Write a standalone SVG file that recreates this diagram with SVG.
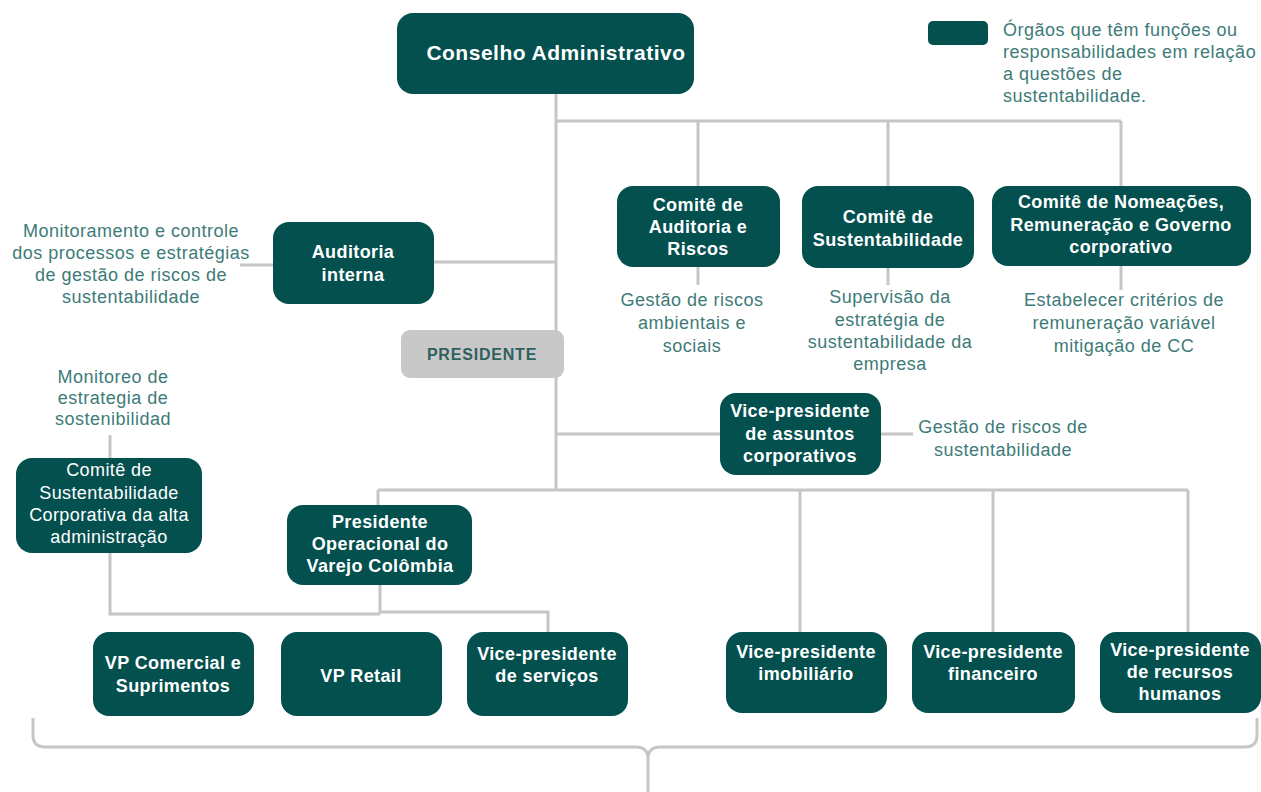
<svg xmlns="http://www.w3.org/2000/svg" width="1261" height="792" viewBox="0 0 1261 792">
<style>
.box{fill:#03504f}
.bt{fill:#ffffff;font-family:"Liberation Sans",Arial,sans-serif;font-size:18px;letter-spacing:0.4px;font-weight:bold;text-anchor:middle}
.bn{fill:#ffffff;font-family:"Liberation Sans",Arial,sans-serif;font-size:18px;letter-spacing:0.4px;text-anchor:middle}
.an{fill:#3d7b78;font-family:"Liberation Sans",Arial,sans-serif;font-size:18px;letter-spacing:0.5px;text-anchor:middle}
.lg{fill:#3d7b78;font-family:"Liberation Sans",Arial,sans-serif;font-size:18px;letter-spacing:0.5px}
.ln{fill:none;stroke:#c6c6c6;stroke-width:3}
</style>
<rect width="1261" height="792" fill="#ffffff"/>
<g id="connectors">
<path class="ln" d="M556 94V490"/>
<path class="ln" d="M556 121H1121M698 121V186M888 121V186M1121 121V186"/>
<path class="ln" d="M434 262H556M240 265H273"/>
<path class="ln" d="M698 267V285M888 268V285M1121 266V290"/>
<path class="ln" d="M556 434H720M881 434H913"/>
<path class="ln" d="M378 490H1188M378 490V505M800 490V632M993 490V632M1188 490V632"/>
<path class="ln" d="M110 435V458M110 553V614H380M380 585V614M380 612H548V632"/>
<path class="ln" d="M33 718V735Q33 747 45 747H636Q648 747 648 759V792M648 759Q648 747 660 747H1245Q1257 747 1257 735V718"/>
</g>
<g id="legend">
<rect x="928" y="21" width="60" height="24" rx="5" class="box"/>
<text x="1003" y="36" class="lg">Órgãos que têm funções ou</text>
<text x="1003" y="58" class="lg">responsabilidades em relação</text>
<text x="1003" y="80" class="lg">a questões de</text>
<text x="1003" y="102" class="lg">sustentabilidade.</text>
</g>
<g id="conselho">
<rect x="397" y="13" width="297" height="81" rx="16" class="box"/>
<text x="556" y="60" class="bt" style="font-size:21px;letter-spacing:0.5px">Conselho Administrativo</text>
</g>
<g id="auditoria-interna">
<rect x="273" y="222" width="161" height="82" rx="16" class="box"/>
<text x="353" y="258" class="bt">Auditoria</text>
<text x="353" y="281" class="bt">interna</text>
</g>
<g id="note-auditoria-interna">
<text x="131" y="237" class="an">Monitoramento e controle</text>
<text x="131" y="259" class="an">dos processos e estratégias</text>
<text x="131" y="281" class="an">de gestão de riscos de</text>
<text x="131" y="303" class="an">sustentabilidade</text>
</g>
<g id="comite-auditoria">
<rect x="617" y="186" width="163" height="81" rx="16" class="box"/>
<text x="698" y="211" class="bt">Comitê de</text>
<text x="698" y="233" class="bt">Auditoria e</text>
<text x="698" y="255" class="bt">Riscos</text>
</g>
<g id="note-comite-auditoria">
<text x="692" y="306" class="an">Gestão de riscos</text>
<text x="692" y="329" class="an">ambientais e</text>
<text x="692" y="352" class="an">sociais</text>
</g>
<g id="comite-sustentabilidade">
<rect x="802" y="186" width="172" height="82" rx="16" class="box"/>
<text x="888" y="223" class="bt">Comitê de</text>
<text x="888" y="246" class="bt">Sustentabilidade</text>
</g>
<g id="note-comite-sustentabilidade">
<text x="890" y="303" class="an">Supervisão da</text>
<text x="890" y="326" class="an">estratégia de</text>
<text x="890" y="348" class="an">sustentabilidade da</text>
<text x="890" y="370" class="an">empresa</text>
</g>
<g id="comite-nomeacoes">
<rect x="992" y="186" width="259" height="80" rx="16" class="box"/>
<text x="1121" y="208" class="bt">Comitê de Nomeações,</text>
<text x="1121" y="231" class="bt">Remuneração e Governo</text>
<text x="1121" y="253" class="bt">corporativo</text>
</g>
<g id="note-comite-nomeacoes">
<text x="1124" y="306" class="an">Estabelecer critérios de</text>
<text x="1124" y="329" class="an">remuneração variável</text>
<text x="1124" y="352" class="an">mitigação de CC</text>
</g>
<g id="presidente">
<rect x="401" y="330" width="163" height="48" rx="9" fill="#c8c8c8"/>
<text x="482" y="360" fill="#2f605e" font-family="Liberation Sans,Arial,sans-serif" font-size="16" font-weight="bold" letter-spacing="0.8" text-anchor="middle">PRESIDENTE</text>
</g>
<g id="vp-assuntos">
<rect x="720" y="393" width="161" height="82" rx="16" class="box"/>
<text x="800" y="417" class="bt">Vice-presidente</text>
<text x="800" y="440" class="bt">de assuntos</text>
<text x="800" y="462" class="bt">corporativos</text>
</g>
<g id="note-vp-assuntos">
<text x="1003" y="433" class="an">Gestão de riscos de</text>
<text x="1003" y="456" class="an">sustentabilidade</text>
</g>
<g id="note-comite-corporativa">
<text x="113" y="383" class="an">Monitoreo de</text>
<text x="113" y="404" class="an">estrategia de</text>
<text x="113" y="425" class="an">sostenibilidad</text>
</g>
<g id="comite-corporativa">
<rect x="16" y="458" width="186" height="95" rx="16" class="box"/>
<text x="109" y="476" class="bn">Comitê de</text>
<text x="109" y="499" class="bn">Sustentabilidade</text>
<text x="109" y="521" class="bn">Corporativa da alta</text>
<text x="109" y="543" class="bn">administração</text>
</g>
<g id="presidente-operacional">
<rect x="287" y="505" width="185" height="80" rx="16" class="box"/>
<text x="380" y="528" class="bt">Presidente</text>
<text x="380" y="550" class="bt">Operacional do</text>
<text x="380" y="572" class="bt">Varejo Colômbia</text>
</g>
<g id="vp-comercial">
<rect x="93" y="632" width="161" height="84" rx="16" class="box"/>
<text x="173" y="669" class="bt">VP Comercial e</text>
<text x="173" y="692" class="bt">Suprimentos</text>
</g>
<g id="vp-retail">
<rect x="281" y="632" width="161" height="84" rx="16" class="box"/>
<text x="361" y="682" class="bt">VP Retail</text>
</g>
<g id="vp-servicos">
<rect x="467" y="632" width="161" height="84" rx="16" class="box"/>
<text x="547" y="660" class="bt">Vice-presidente</text>
<text x="547" y="682" class="bt">de serviços</text>
</g>
<g id="vp-imobiliario">
<rect x="726" y="632" width="161" height="81" rx="16" class="box"/>
<text x="806" y="658" class="bt">Vice-presidente</text>
<text x="806" y="680" class="bt">imobiliário</text>
</g>
<g id="vp-financeiro">
<rect x="912" y="632" width="163" height="81" rx="16" class="box"/>
<text x="993" y="658" class="bt">Vice-presidente</text>
<text x="993" y="680" class="bt">financeiro</text>
</g>
<g id="vp-rh">
<rect x="1100" y="632" width="161" height="81" rx="16" class="box"/>
<text x="1180" y="656" class="bt">Vice-presidente</text>
<text x="1180" y="678" class="bt">de recursos</text>
<text x="1180" y="700" class="bt">humanos</text>
</g>
</svg>
